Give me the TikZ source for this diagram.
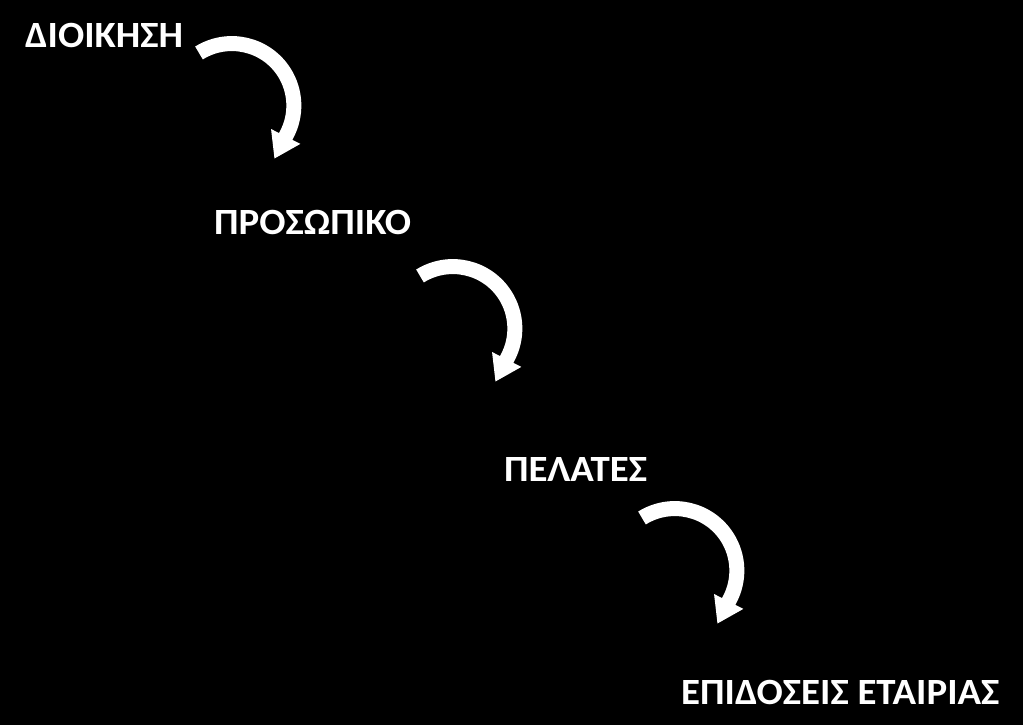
\documentclass[tikz,border=0pt]{standalone}
\usepackage{fontspec}
\setmainfont{Carlito}[BoldFeatures={FakeStretch=1.05}]
\usetikzlibrary{arrows.meta}
\begin{document}
\begin{tikzpicture}[x=1pt,y=1pt,
  lbl/.style={anchor=base west, inner sep=0pt, text=white, font=\fontsize{37}{40}\selectfont\bfseries},
  curvarrow/.style={draw=white, line width=15pt, -{Triangle[width=31pt,length=25pt]}}]
\fill[black] (0,0) rectangle (1023,725);
\useasboundingbox (0,0) rectangle (1023,725);
\node[lbl] (t1) at (25,677) {ΔΙΟΙΚΗΣΗ};
\node[lbl] (t2) at (214,490) {ΠΡΟΣΩΠΙΚΟ};
\node[lbl] (t3) at (504,243) {ΠΕΛΑΤΕΣ};
\node[lbl] (t4) at (681,20) {ΕΠΙΔΟΣΕΙΣ ΕΤΑΙΡΙΑΣ};
\coordinate (a1) at (197,677);
\coordinate (a2) at (418,454);
\coordinate (a3) at (640,212);
\foreach \a in {a1,a2,a3}{
  \draw[curvarrow] ([shift={(2,-5)}]\a) arc[start angle=122, end angle=-28, radius=62] -- ++(-117:27);
}
\end{tikzpicture}
\end{document}
